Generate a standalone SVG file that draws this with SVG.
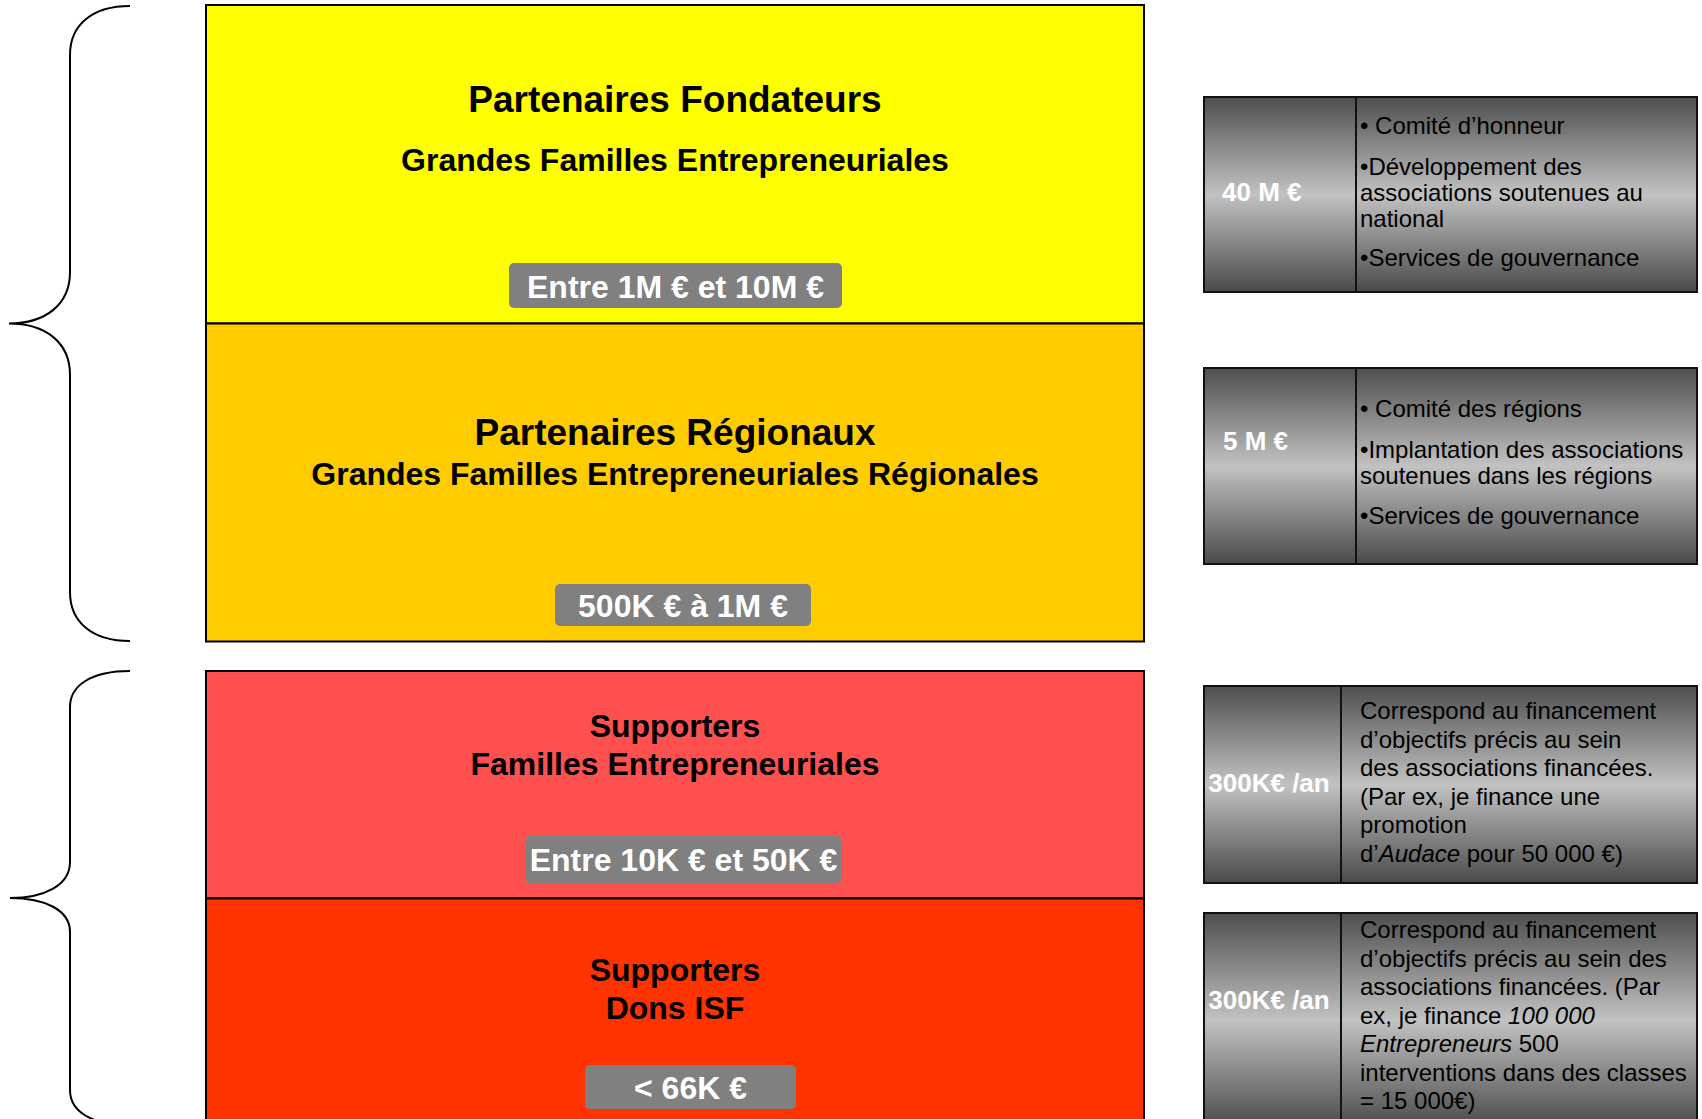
<svg xmlns="http://www.w3.org/2000/svg" width="1702" height="1119" viewBox="0 0 1702 1119">
<defs>
<linearGradient id="g" x1="0" y1="0" x2="0" y2="1">
<stop offset="0" stop-color="#4e4e4e"/>
<stop offset="0.5" stop-color="#c2c2c2"/>
<stop offset="1" stop-color="#4a4a4a"/>
</linearGradient>
<style>
.tier{stroke:#000;stroke-width:2}
.t1{font-family:"Liberation Sans",Arial,sans-serif;font-weight:bold;font-size:37px;text-anchor:middle;fill:#000}
.t2{font-family:"Liberation Sans",Arial,sans-serif;font-weight:bold;font-size:32px;text-anchor:middle;fill:#000}
.badge{fill:#808080}
.bt{font-family:"Liberation Sans",Arial,sans-serif;font-weight:bold;font-size:32px;text-anchor:middle;fill:#fff}
.info{fill:url(#g);stroke:#111;stroke-width:2}
.amt{font-family:"Liberation Sans",Arial,sans-serif;font-weight:bold;font-size:26px;fill:#fff}
.amt2{font-family:"Liberation Sans",Arial,sans-serif;font-weight:bold;font-size:26px;fill:#fff;text-anchor:middle}
.desc{font-family:"Liberation Sans",Arial,sans-serif;font-size:24px;fill:#000}
.brace{fill:none;stroke:#000;stroke-width:2}
</style>
</defs>
<rect width="1702" height="1119" fill="#fff"/>

<g id="connectors">
<path class="brace" d="M130,6 C92,6 70,25 70,55 L70,272 C70,305 45,323.5 9,323.5 C45,323.5 70,342 70,375 L70,592 C70,622 92,641 130,641"/>
<path class="brace" d="M130,671 C92,671 70,685 70,707 L70,862 C70,885 45,898 10,898 C45,898 70,910 70,932 L70,1090 C70,1112 92,1125 130,1125"/>
</g>

<g id="tier-fondateurs">
<rect class="tier" x="206" y="5" width="938" height="318.5" fill="#ffff00"/>
<text class="t1" x="675" y="112">Partenaires Fondateurs</text>
<text class="t2" x="675" y="171">Grandes Familles Entrepreneuriales</text>
<rect class="badge" x="509" y="263" width="333" height="45" rx="5"/>
<text class="bt" x="675.5" y="298">Entre 1M € et 10M €</text>
</g>

<g id="tier-regionaux">
<rect class="tier" x="206" y="323.5" width="938" height="318" fill="#ffcc00"/>
<text class="t1" x="675" y="445">Partenaires Régionaux</text>
<text class="t2" x="675" y="485">Grandes Familles Entrepreneuriales Régionales</text>
<rect class="badge" x="555" y="584" width="256" height="42" rx="5"/>
<text class="bt" x="683" y="617">500K € à 1M €</text>
</g>

<g id="tier-supporters-familles">
<rect class="tier" x="206" y="671" width="938" height="227.5" fill="#ff5050"/>
<text class="t2" x="675" y="737">Supporters</text>
<text class="t2" x="675" y="775">Familles Entrepreneuriales</text>
<rect class="badge" x="525" y="836" width="317" height="47" rx="5"/>
<text class="bt" x="683.5" y="871">Entre 10K € et 50K €</text>
</g>

<g id="tier-supporters-isf">
<rect class="tier" x="206" y="898.5" width="938" height="230" fill="#ff3300"/>
<text class="t2" x="675" y="981">Supporters</text>
<text class="t2" x="675" y="1019">Dons ISF</text>
<rect class="badge" x="585" y="1065" width="211" height="44" rx="5"/>
<text class="bt" x="690.5" y="1099">&lt; 66K €</text>
</g>

<g id="info-fondateurs">
<rect class="info" x="1204" y="97" width="152" height="195"/>
<rect class="info" x="1356" y="97" width="341" height="195"/>
<text class="amt" x="1222" y="201">40 M €</text>
<text class="desc" x="1360" y="134">• Comité d’honneur</text>
<text class="desc" x="1360" y="175">•Développement des</text>
<text class="desc" x="1360" y="201">associations soutenues au</text>
<text class="desc" x="1360" y="227">national</text>
<text class="desc" x="1360" y="266">•Services de gouvernance</text>
</g>

<g id="info-regionaux">
<rect class="info" x="1204" y="368" width="152" height="196"/>
<rect class="info" x="1356" y="368" width="341" height="196"/>
<text class="amt" x="1223" y="450">5 M €</text>
<text class="desc" x="1360" y="417">• Comité des régions</text>
<text class="desc" x="1360" y="458">•Implantation des associations</text>
<text class="desc" x="1360" y="484">soutenues dans les régions</text>
<text class="desc" x="1360" y="524">•Services de gouvernance</text>
</g>

<g id="info-familles">
<rect class="info" x="1204" y="686" width="137" height="197"/>
<rect class="info" x="1341" y="686" width="356" height="197"/>
<text class="amt2" x="1269" y="792">300K€ /an</text>
<text class="desc" x="1360" y="719">Correspond au financement</text>
<text class="desc" x="1360" y="747.5">d’objectifs précis au sein</text>
<text class="desc" x="1360" y="776">des associations financées.</text>
<text class="desc" x="1360" y="804.5">(Par ex, je finance une</text>
<text class="desc" x="1360" y="833">promotion</text>
<text class="desc" x="1360" y="861.5">d’<tspan font-style="italic">Audace</tspan> pour 50 000 €)</text>
</g>

<g id="info-isf">
<rect class="info" x="1204" y="913" width="137" height="215"/>
<rect class="info" x="1341" y="913" width="356" height="215"/>
<text class="amt2" x="1269" y="1009">300K€ /an</text>
<text class="desc" x="1360" y="938">Correspond au financement</text>
<text class="desc" x="1360" y="966.5">d’objectifs précis au sein des</text>
<text class="desc" x="1360" y="995">associations financées. (Par</text>
<text class="desc" x="1360" y="1023.5">ex, je finance <tspan font-style="italic">100 000</tspan></text>
<text class="desc" x="1360" y="1052"><tspan font-style="italic">Entrepreneurs</tspan> 500</text>
<text class="desc" x="1360" y="1080.5">interventions dans des classes</text>
<text class="desc" x="1360" y="1109">= 15 000€)</text>
</g>
</svg>
